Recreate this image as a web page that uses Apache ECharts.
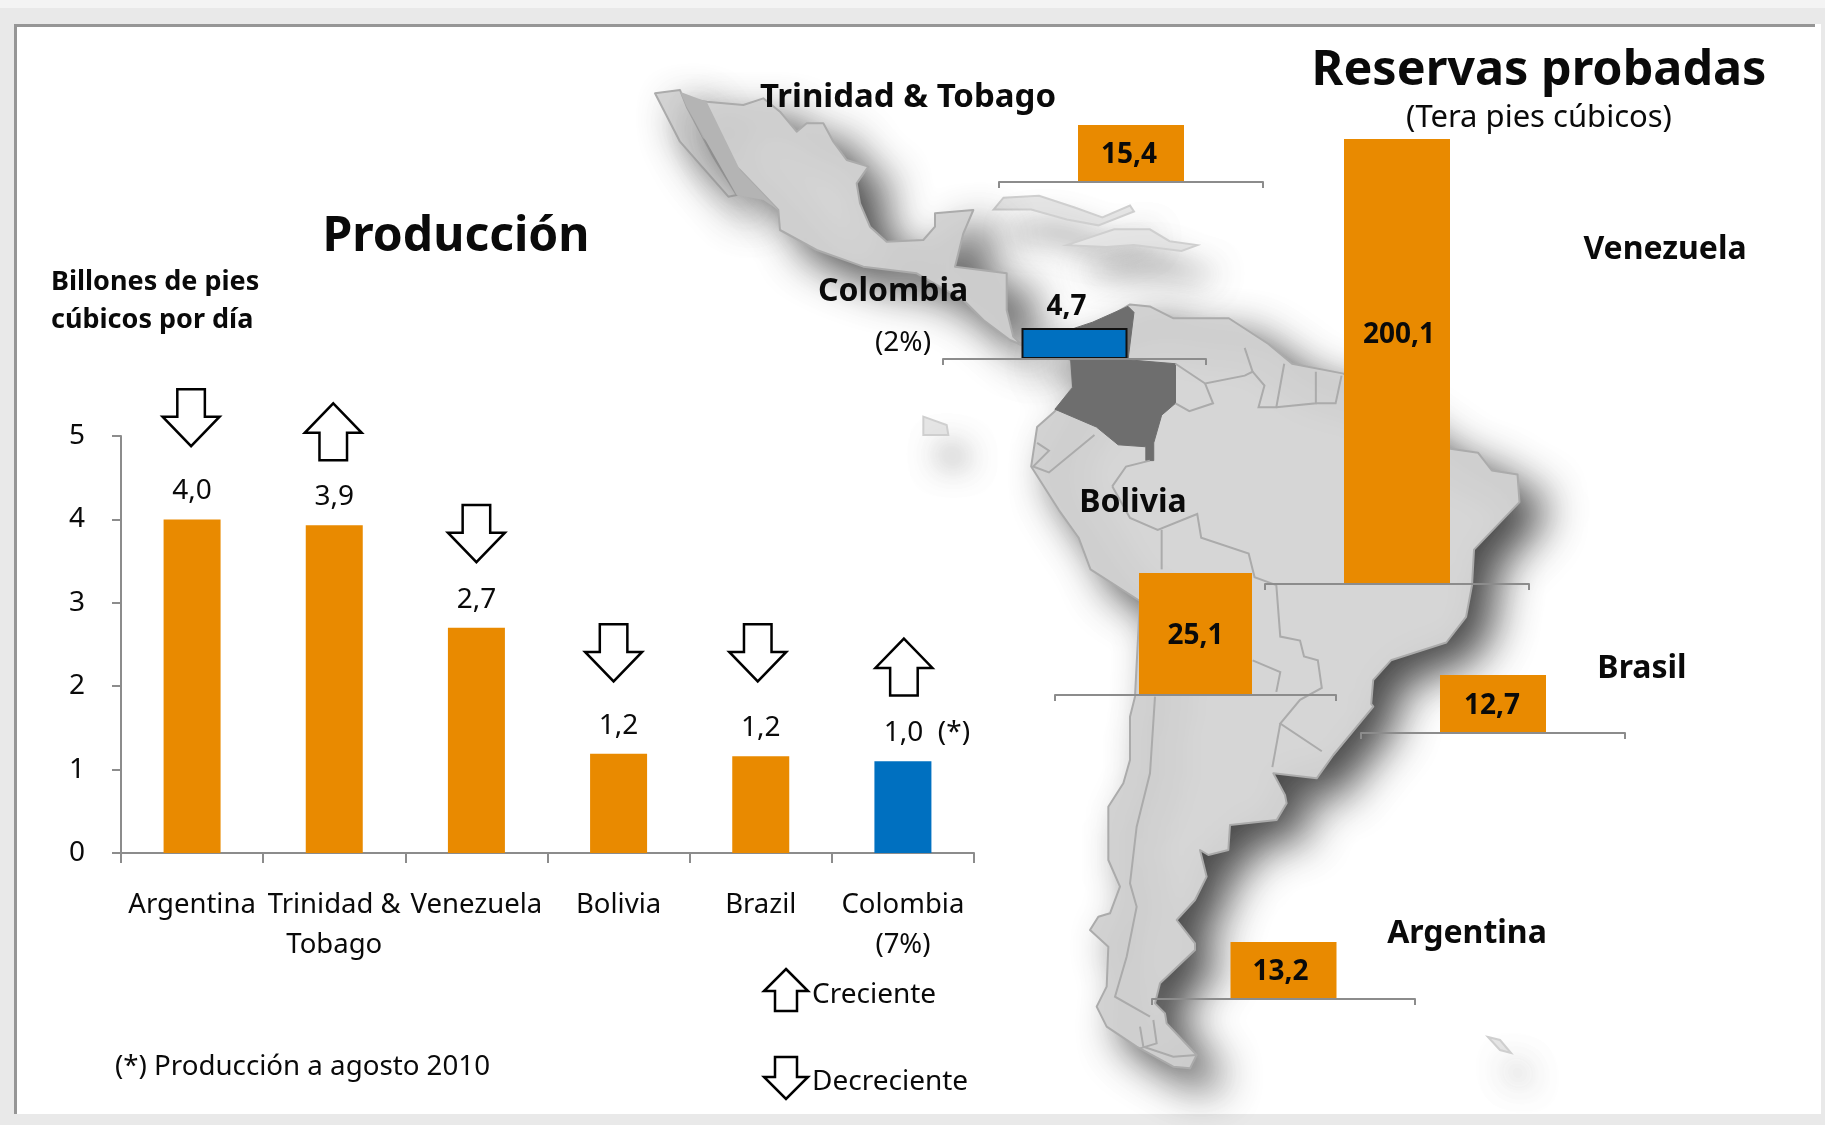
<!DOCTYPE html>
<html>
<head>
<meta charset="utf-8">
<title>Producción y reservas probadas</title>
<style>html,body{margin:0;padding:0;background:#e9e9e9}#c{width:1825px;height:1125px}</style>
<script src="https://cdn.jsdelivr.net/npm/echarts@6/dist/echarts.min.js"></script>
</head>
<body>
<div id="c"></div>
<script>
// ---------- DATA ----------
const prodCategories = ['Argentina', 'Trinidad &\nTobago', 'Venezuela', 'Bolivia', 'Brazil', 'Colombia\n(7%)'];
const prodValues = [4.0, 3.93, 2.70, 1.19, 1.16, 1.10];
const prodLabels = ['4,0', '3,9', '2,7', '1,2', '1,2', '1,0  (*)'];
const prodTrend = ['down', 'up', 'down', 'down', 'down', 'up'];
const prodTrendLevel = [5.22, 5.05, 3.83, 2.40, 2.40, 2.23];
const yTicks = [0, 1, 2, 3, 4, 5];
const reserveCountries = ['Trinidad & Tobago', 'Venezuela', 'Colombia', 'Bolivia', 'Brasil', 'Argentina'];
const reserveValues = [15.4, 200.1, 4.7, 25.1, 12.7, 13.2];

// ---------- STYLE / LAYOUT ----------
const ORANGE = '#E98A00', BLUE = '#0070C0', AXIS = '#8c8c8c', INK = '#0a0a0a';
const FONT = '"Noto Sans", "Open Sans", sans-serif';
const colombiaIdx = 5;
const reserveBoxes = [ // left, right, top of bar, axis line y, bar width
  [999, 1263, 125, 182, 106],
  [1265, 1529, 139, 584, 106],
  [943, 1206, 328, 359, 106],
  [1055, 1336, 573, 695, 113],
  [1361, 1625, 675, 733, 106],
  [1152, 1415, 942, 999, 106]
];
const reserveLabelShift = [[-2, 2], [2, -26], [-8, -2], [0, 2], [-1, 2], [-3, 2]];
const arrowNudge = [-1, -1, 0, -5, -3, 1];
const DOWN = 'M15.5 0H44.5V29H60L30 60L0 29H15.5Z';
const UP = 'M30 0L60 31H44.5V60H15.5V31H0Z';
const legendUp = [[22,0],[44,22],[33,22],[33,42],[11,42],[11,22],[0,22]];
const legendDown = [[11,0],[33,0],[33,20],[44,20],[22,42],[0,20],[11,20]];

const z4 = p => [630 + p[0] / 3, 70 + p[1] / 3];
const z5 = p => [960 + p[0] * 0.3954, 170 + p[1] * 0.3954];
const z6 = p => [1040 + p[0] / 3, 680 + p[1] / 3];
const mexico = [[165,85],[230,95],[340,105],[400,85],[450,125],[500,185],[530,160],[580,160],[610,215],[650,270],[715,290],[680,340],[690,400],[720,470],[770,515],[880,510],[915,470],[915,430],[1030,420],[1000,490],[975,590],[1130,610],[1130,720],[1150,800],[1175,825],[1140,810],[1060,750],[1000,690],[860,610],[700,590],[560,540],[450,480],[445,420],[330,300],[220,200]].map(z4);
const baja = [[75,70],[150,60],[170,110],[250,260],[320,375],[295,380],[150,215]].map(z4);
const gulf = [[150,65],[230,95],[330,300],[445,420],[400,390],[320,375],[170,110]].map(z4);
const southAmerica = [
  ...[[330,400],[430,340],[480,345],[540,375],[680,375],[780,440],[840,490],[970,515],[1240,705],[1310,715],[1345,760],[1410,770],[1415,840],[1300,960],[1295,1050],[1280,1130],[1230,1195],[1090,1240],[1045,1290],[1040,1350]].map(z5),
  ...[[1000,80],[880,225],[830,295],[700,280],[735,345],[740,370],[710,420],[570,435],[565,510],[505,525],[480,510],[500,590],[465,660],[410,720],[465,790],[465,810],[360,910],[345,970],[375,1000],[380,1030],[470,1125],[450,1165],[400,1160],[290,1100],[200,1040],[170,980],[200,920],[205,800],[150,750],[175,710],[210,700],[240,620],[205,540],[205,380],[250,310],[270,240],[270,110],[285,50]].map(z6),
  ...[[455,1090],[330,1010],[300,930],[250,860],[180,750],[195,650],[240,610],[285,550],[280,480],[150,440]].map(z5)
];
const colombia = [[335,385],[425,345],[440,360],[425,480],[545,490],[545,590],[510,620],[490,690],[490,735],[470,735],[470,700],[400,695],[345,650],[240,605],[285,550],[280,480],[200,470],[290,400]].map(z5);
const borders = [
  [[620,540],[640,590],[580,610],[545,590]],
  [[545,490],[620,540],[720,520],[740,510],[720,450]],
  [[740,510],[770,545],[755,600],[800,600],[820,490]],
  [[800,600],[900,590],[900,510]],
  [[900,590],[950,590],[965,520]],
  [[195,690],[225,710],[185,750],[225,765],[340,670]],
  [[385,800],[420,750],[480,735]],
  [[385,800],[430,880],[500,910],[600,870],[610,930],[730,970],[745,1030],[800,1050],[810,1180],[860,1190],[870,1230],[905,1240],[915,1310],[860,1340],[810,1400],[915,1470]],
  [[510,910],[510,1010]],
  [[810,1400],[790,1510]],
  [[740,1240],[810,1270],[800,1320]]
].map(l => l.map(z5));
const chileLine = [[345,50],[330,280],[290,440],[270,610],[290,680],[260,830],[225,950],[330,1010]].map(z6);
const fuego = [[[300,1040],[310,1100],[400,1130],[470,1125]],[[340,1020],[350,1090],[300,1105]]].map(l => l.map(z6));
const cuba = [[85,100],[110,70],[200,65],[290,95],[360,120],[430,90],[440,105],[350,140],[270,125],[180,100]].map(z5);
const hispaniola = [[270,190],[390,150],[480,150],[530,180],[600,190],[560,205],[440,190],[370,195]].map(z5);
const galapagos = [[880,1040],[950,1065],[955,1095],[880,1095]].map(z4);
const falkland = [[1488,1037],[1500,1040],[1511,1053],[1500,1050]];

const land = (points, extra) => Object.assign({
  type: 'polygon', shape: { points }, z: 0, silent: true,
  style: { fill: '#d6d6d6', stroke: '#ababab', lineWidth: 2, lineJoin: 'round',
    shadowColor: 'rgba(50,50,50,0.88)', shadowBlur: 42, shadowOffsetX: 23, shadowOffsetY: 19 }
}, extra || {});
const isle = points => ({
  type: 'polygon', shape: { points }, z: 0, silent: true,
  style: { fill: '#e6e6e6', stroke: '#cfcfcf', lineWidth: 2,
    shadowColor: 'rgba(70,70,70,0.5)', shadowBlur: 30, shadowOffsetX: 18, shadowOffsetY: 28 }
});
const line = points => ({
  type: 'polyline', shape: { points }, z: 0, silent: true,
  style: { stroke: '#ababab', lineWidth: 2, fill: null }
});

const txt = (text, x, y, size, bold, align) => ({
  type: 'text', x, y: y + 3, z: 20, silent: true,
  style: { text, x: 0, y: 0, fill: INK, font: (bold ? 'bold ' : '') + size + 'px ' + FONT,
    textAlign: align || 'center', textVerticalAlign: 'middle' }
});
const arrowShape = (pts, x, y) => ({
  type: 'polygon', z: 20, silent: true,
  shape: { points: pts.map(p => [x + p[0], y + p[1]]) },
  style: { fill: '#fff', stroke: '#000', lineWidth: 2.5 }
});
const rect = (x, y, width, height, fill, z) => ({
  type: 'rect', shape: { x, y, width, height }, z: z === undefined ? -10 : z, silent: true, style: { fill }
});

const graphicElements = [
  rect(0, 0, 1825, 8, '#f4f4f4'),
  rect(14, 24, 1807, 1090, '#ffffff'),
  rect(14, 24, 1801, 3, '#969696'),
  rect(14, 24, 3, 1090, '#969696'),
  isle(cuba), isle(hispaniola), isle(galapagos), isle(falkland),
  land(baja), land(mexico), land(southAmerica),
  rect(0, 0, 0, 0, 'transparent', 0),
  { type: 'polygon', shape: { points: gulf }, z: 0, silent: true, style: { fill: '#b4b4b4' } },
  land(colombia, { z: 0, style: { fill: '#6e6e6e', stroke: '#6e6e6e', lineWidth: 1 } }),
  ...borders.map(line), line(chileLine), ...fuego.map(line),
  txt('Producción', 456, 234, 48, true),
  txt('Billones de pies', 51, 279, 27, true, 'left'),
  txt('cúbicos por día', 51, 317, 27, true, 'left'),
  txt('Reservas probadas', 1539, 68, 48.5, true),
  txt('(Tera pies cúbicos)', 1539, 115, 31, false),
  txt('Trinidad & Tobago', 908, 95, 33, true),
  txt('Colombia', 893, 289, 32, true),
  txt('(2%)', 903, 340, 28, false),
  txt('Bolivia', 1133, 500, 32, true),
  txt('Venezuela', 1665, 247, 32, true),
  txt('Brasil', 1642, 666, 32, true),
  txt('Argentina', 1467, 931, 32, true),
  txt('(*) Producción a agosto 2010', 115, 1064, 27.7, false, 'left'),
  txt('Creciente', 812, 992, 28, false, 'left'),
  txt('Decreciente', 812, 1079, 28, false, 'left'),
  arrowShape(legendUp, 764, 969),
  arrowShape(legendDown, 764, 1057)
];

// ---------- CHART ----------
const grids = [{ left: 121, top: 436, width: 853, height: 417 }];
const xAxes = [{
  type: 'category', gridIndex: 0, data: prodCategories,
  axisLine: { lineStyle: { color: AXIS, width: 2 } },
  axisTick: { show: true, length: 10, lineStyle: { color: AXIS, width: 2 } },
  axisLabel: { interval: 0, margin: 32, fontSize: 27.5, lineHeight: 40, color: INK, fontFamily: FONT }
}];
const yAxes = [{
  type: 'value', gridIndex: 0, min: yTicks[0], max: yTicks[yTicks.length - 1], interval: 1,
  splitLine: { show: false },
  axisLine: { show: true, lineStyle: { color: AXIS, width: 2 } },
  axisTick: { show: true, length: 9, lineStyle: { color: AXIS, width: 2 } },
  axisLabel: { margin: 36, fontSize: 28, color: INK, fontFamily: FONT, padding: [3, 0, 0, 0] }
}];
const series = [{
  type: 'bar', xAxisIndex: 0, yAxisIndex: 0, barWidth: 57, z: 5,
  data: prodValues.map((v, i) => ({
    value: v,
    itemStyle: { color: i === colombiaIdx ? BLUE : ORANGE },
    label: {
      show: true, position: 'top', distance: 14, formatter: prodLabels[i],
      fontSize: 28, color: INK, fontFamily: FONT,
      offset: i === colombiaIdx ? [24, 0] : [0, 0]
    }
  }))
}, {
  type: 'scatter', xAxisIndex: 0, yAxisIndex: 0, clip: false, z: 6, silent: true,
  data: prodTrendLevel.map((v, i) => ({
    value: [i, v],
    symbol: 'path://' + (prodTrend[i] === 'up' ? UP : DOWN),
    symbolOffset: [arrowNudge[i], 0]
  })),
  symbolSize: [57, 57],
  itemStyle: { color: '#fff', borderColor: '#000', borderWidth: 2.5, opacity: 1 }
}];

reserveCountries.forEach((name, i) => {
  const [l, r, top, base, bw] = reserveBoxes[i];
  const g = i + 1;
  grids.push({ left: l, top, width: r - l, height: base - top });
  xAxes.push({
    type: 'category', gridIndex: g, data: [name], z: 6,
    axisLine: { lineStyle: { color: AXIS, width: 2 } },
    axisTick: { show: true, length: 6, lineStyle: { color: AXIS, width: 2 } },
    axisLabel: { show: false }
  });
  yAxes.push({ type: 'value', gridIndex: g, min: 0, max: reserveValues[i], show: false });
  const isCol = name === 'Colombia';
  series.push({
    type: 'bar', xAxisIndex: g, yAxisIndex: g, barWidth: bw, z: 5,
    data: [{
      value: reserveValues[i],
      itemStyle: isCol ? { color: BLUE, borderColor: '#111', borderWidth: 2 } : { color: ORANGE }
    }],
    label: {
      show: true, position: isCol ? 'top' : 'inside', distance: 5,
      offset: reserveLabelShift[i],
      formatter: p => p.value.toFixed(1).replace('.', ','),
      fontSize: 28, fontWeight: 'bold', color: INK, fontFamily: FONT
    }
  });
});

const chart = echarts.init(document.getElementById('c'), null, { renderer: 'canvas', width: 1825, height: 1125 });
chart.setOption({
  animation: false,
  backgroundColor: '#e9e9e9',
  grid: grids, xAxis: xAxes, yAxis: yAxes, series,
  graphic: { elements: graphicElements }
});
</script>
</body>
</html>
